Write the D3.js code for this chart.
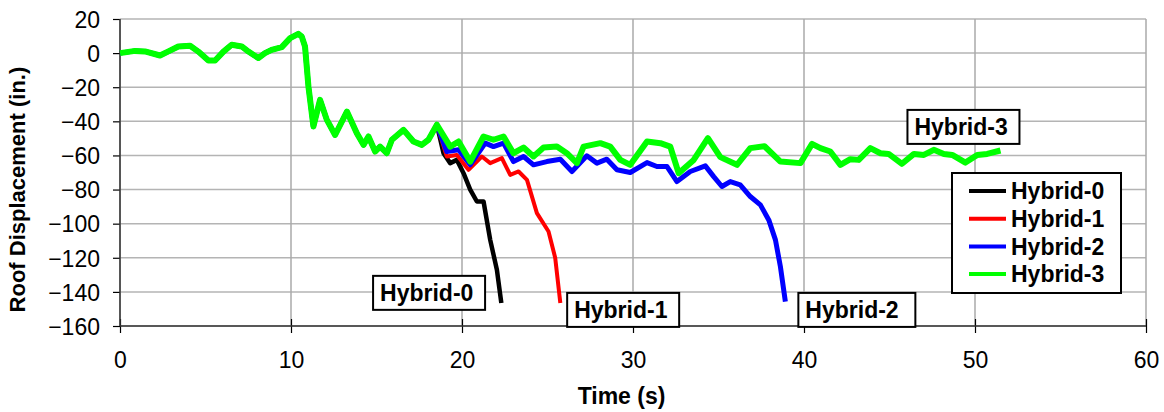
<!DOCTYPE html>
<html>
<head>
<meta charset="utf-8">
<script src="https://cdn.jsdelivr.net/npm/d3@7"></script>
<style>
  body { margin: 0; background: #fff; }
  svg { display: block; font-family: "Liberation Sans", Arial, sans-serif; }
  .axis text { font-size: 23px; fill: #000; }
  .axis path { display: none; }
  .axis line { stroke: #000; }
  .lbl { font-size: 23px; font-weight: bold; }
</style>
</head>
<body>
<div id="main_plot"></div>
<script>
// shared response before the runs separate (time s, roof displacement in.)
commonPart = [
  [0, 0], [0.88, 1.3], [1.46, 1], [2.34, -1.4], [2.83, 1], [3.41, 3.9], [4.1, 4.3],
  [4.58, 0.9], [5.17, -4.3], [5.56, -4.3], [6.05, 0.9], [6.53, 4.9], [7.12, 3.9],
  [7.51, 0.9], [8.09, -2.9], [8.48, 0], [8.87, 1.9], [9.46, 3.5], [9.95, 8.8],
  [10.43, 11.3], [10.63, 9.7], [10.82, 3.9], [11.02, -19.6], [11.31, -43],
  [11.7, -27.4], [12.09, -39], [12.58, -48], [13.27, -34.3], [13.85, -47],
  [14.24, -53.8], [14.53, -48.9], [14.92, -57.7], [15.21, -54.8], [15.6, -58.7],
  [15.9, -50.8], [16.58, -45], [17.16, -51.8], [17.65, -53.8], [18.04, -50.8],
  [18.53, -42]
];

hybrid0Tail = [
  [18.92, -58.7], [19.31, -64.5], [19.7, -62.6], [20.09, -70.4], [20.48, -80],
  [20.87, -87], [21.26, -87], [21.65, -109.5], [22.04, -127], [22.3, -146.5]
];

hybrid1Tail = [
  [19.11, -60.6], [19.7, -59.7], [20.38, -68.4], [21.16, -60.6], [21.65, -64.5],
  [22.33, -61.6], [22.82, -71.4], [23.31, -69.4], [23.8, -74.3], [24.38, -93.8],
  [25.06, -104.6], [25.45, -120], [25.75, -146.5]
];

hybrid2Tail = [
  [19.11, -57.7], [19.8, -56.7], [20.48, -65.5], [21.36, -52.8], [21.84, -54.8],
  [22.43, -52.8], [23.01, -63.6], [23.6, -60.6], [24.18, -65.5], [24.96, -63.6],
  [25.75, -62.2], [26.43, -69.4], [27.3, -60.2], [27.89, -64.5], [28.47, -62.2],
  [29.06, -68.4], [29.84, -70], [30.82, -64.2], [31.4, -66.5], [31.99, -66.5],
  [32.57, -75.3], [33.35, -69.4], [34.23, -66.1], [34.72, -72.4], [35.2, -78.2],
  [35.69, -75.3], [36.27, -77.2], [36.86, -84.1], [37.45, -89], [37.94, -97.8],
  [38.33, -109.5], [38.62, -125.2], [38.91, -145.7]
];

hybrid3Tail = [
  [19.31, -54.8], [19.8, -51.8], [20.48, -63.6], [21.26, -48.9], [21.84, -50.8],
  [22.43, -48.9], [23.01, -58.7], [23.6, -55.4], [24.18, -60.6], [24.77, -55.4],
  [25.55, -54.8], [26.13, -58.7], [26.72, -64.5], [27.11, -54.8], [28.09, -52.8],
  [28.67, -54.8], [29.26, -62.6], [29.84, -65.5], [30.82, -51.8], [31.6, -52.8],
  [32.18, -54.8], [32.67, -70.4], [33.55, -62.6], [34.38, -49.9], [35.11, -61],
  [36.08, -65.5], [36.86, -55.7], [37.69, -54.6], [38.62, -63.6], [39.79, -64.5],
  [40.47, -53.2], [40.96, -55.7], [41.54, -57.7], [42.13, -65.5], [42.71, -62.2],
  [43.2, -62.6], [43.88, -55.7], [44.47, -58.7], [44.95, -59.1], [45.73, -64.9],
  [46.43, -59.1], [47.01, -59.7], [47.59, -56.7], [48.18, -59.1], [48.67, -59.7],
  [49.44, -64.2], [50.13, -59.7], [50.71, -59.1], [51.49, -57.1]
];

seriesNames = ["Hybrid-0", "Hybrid-1", "Hybrid-2", "Hybrid-3"];
seriesColors = ["#000000", "#ff0000", "#0000ff", "#00ff00"];
seriesWidths = [4.5, 4, 5, 6];
seriesTails = [hybrid0Tail, hybrid1Tail, hybrid2Tail, hybrid3Tail];

xTicks = [0, 10, 20, 30, 40, 50, 60];
yTicks = [20, 0, -20, -40, -60, -80, -100, -120, -140, -160];

// callout boxes: text and top-left corner in data units
callouts = [
  { name: "Hybrid-0", t: 14.8, v: -130.6 },
  { name: "Hybrid-1", t: 26.15, v: -140.6 },
  { name: "Hybrid-2", t: 39.67, v: -140.6 },
  { name: "Hybrid-3", t: 46.05, v: -33.3 }
];

margin = { top: 19, right: 18, bottom: 86, left: 120 },
  width = 1164 - margin.left - margin.right,
  height = 412 - margin.top - margin.bottom;

function makePlot() {
  let x = d3.scaleLinear().domain([0, 60]).range([0, width]);
  let y = d3.scaleLinear().domain([-160, 20]).range([height, 0]);

  let svg = d3.select("#main_plot").append("svg")
    .attr("width", 1164)
    .attr("height", 412)
    .append("g")
    .attr("transform", "translate(" + margin.left + "," + margin.top + ")");

  // grid
  svg.selectAll(".hgrid")
    .data(yTicks)
    .enter().append("line")
    .attr("x1", 0).attr("x2", width)
    .attr("y1", d => y(d)).attr("y2", d => y(d))
    .attr("stroke", "#b4b4b4")
    .attr("stroke-width", 1.5);

  svg.selectAll(".vgrid")
    .data(xTicks)
    .enter().append("line")
    .attr("x1", d => x(d)).attr("x2", d => x(d))
    .attr("y1", 0).attr("y2", height)
    .attr("stroke", "#aaaaaa")
    .attr("stroke-width", 1.5);

  // axes
  let xAxis = d3.axisBottom(x).tickValues(xTicks).tickSize(7).tickPadding(19);
  let gx = svg.append("g")
    .attr("class", "x axis")
    .attr("transform", "translate(0," + height + ")")
    .call(xAxis);
  gx.selectAll(".tick line").attr("y1", -7).attr("stroke-width", 1.2);

  let yAxis = d3.axisLeft(y).tickValues(yTicks).tickSize(7).tickPadding(13);
  let gy = svg.append("g")
    .attr("class", "y axis")
    .call(yAxis);
  gy.selectAll(".tick line").attr("stroke-width", 1.2);
  gy.selectAll(".tick text").attr("dy", "0.36em");

  svg.append("line")
    .attr("x1", 0).attr("x2", width)
    .attr("y1", height).attr("y2", height)
    .attr("stroke", "#333").attr("stroke-width", 1.5);
  svg.append("line")
    .attr("x1", 0).attr("x2", 0)
    .attr("y1", 0).attr("y2", height)
    .attr("stroke", "#333").attr("stroke-width", 1.5);

  // axis titles
  svg.append("text")
    .attr("class", "lbl")
    .attr("x", x(29.33))
    .attr("y", height + 78)
    .attr("text-anchor", "middle")
    .text("Time (s)");

  svg.append("text")
    .attr("class", "lbl")
    .style("font-size", "22px")
    .attr("transform", "translate(" + (-95) + "," + (y(-80)) + ") rotate(-90)")
    .attr("text-anchor", "middle")
    .text("Roof Displacement (in.)");

  // lines
  let line = d3.line()
    .x(d => x(d[0]))
    .y(d => y(d[1]));

  let metrics = seriesNames.map((name, i) => ({
    name: name,
    color: seriesColors[i],
    width: seriesWidths[i],
    values: commonPart.concat(seriesTails[i])
  }));

  svg.selectAll(".metric")
    .data(metrics)
    .enter().append("path")
    .attr("class", "metric")
    .attr("d", d => line(d.values))
    .attr("fill", "none")
    .attr("stroke", d => d.color)
    .attr("stroke-width", d => d.width)
    .attr("stroke-linejoin", "round");

  // callout boxes
  let boxes = svg.selectAll(".callout")
    .data(callouts)
    .enter().append("g")
    .attr("class", "callout")
    .attr("transform", d => "translate(" + x(d.t) + "," + y(d.v) + ")");

  boxes.append("rect")
    .attr("width", d => d.name === "Hybrid-2" ? 117 : 112)
    .attr("height", 34)
    .attr("fill", "#fff")
    .attr("stroke", "#000")
    .attr("stroke-width", 2);

  boxes.append("text")
    .attr("class", "lbl")
    .attr("x", 7)
    .attr("y", 25)
    .text(d => d.name);

  // legend
  let lg = svg.append("g")
    .attr("transform", "translate(" + (952 - margin.left) + "," + (173 - margin.top) + ")");

  lg.append("rect")
    .attr("width", 169)
    .attr("height", 120)
    .attr("fill", "#fff")
    .attr("stroke", "#000")
    .attr("stroke-width", 2);

  let items = lg.selectAll(".legend")
    .data(metrics)
    .enter().append("g")
    .attr("class", "legend")
    .attr("transform", (d, i) => "translate(0," + (18 + i * 27.7) + ")");

  items.append("line")
    .attr("x1", 17).attr("x2", 54)
    .attr("stroke", d => d.color)
    .attr("stroke-width", 4);

  items.append("text")
    .attr("class", "lbl")
    .attr("x", 59)
    .attr("dy", "0.36em")
    .text(d => d.name);
}

makePlot();
</script>
</body>
</html>
